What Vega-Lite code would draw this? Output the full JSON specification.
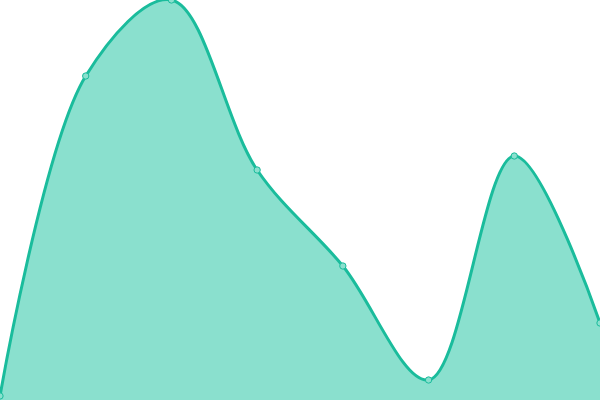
{
  "$schema": "https://vega.github.io/schema/vega-lite/v6.json",
  "width": 600,
  "height": 400,
  "autosize": {"type": "none"},
  "padding": 0,
  "config": {"view": {"stroke": null}},
  "data": {
    "values": [
      {"i": 0, "v": 1},
      {"i": 1, "v": 81},
      {"i": 2, "v": 100},
      {"i": 3, "v": 57.5},
      {"i": 4, "v": 33.5},
      {"i": 5, "v": 5},
      {"i": 6, "v": 61},
      {"i": 7, "v": 19.25}
    ]
  },
  "encoding": {
    "x": {"field": "i", "type": "quantitative", "axis": null, "scale": {"domain": [0, 7], "nice": false, "zero": false}},
    "y": {"field": "v", "type": "quantitative", "axis": null, "scale": {"domain": [0, 100], "nice": false}}
  },
  "layer": [
    {
      "mark": {"type": "area", "interpolate": "catmull-rom", "color": "#8ae0ce"}
    },
    {
      "mark": {"type": "line", "interpolate": "catmull-rom", "color": "#1abc9c", "strokeWidth": 3}
    },
    {
      "mark": {"type": "point", "filled": true, "fill": "#8ae0ce", "stroke": "#1abc9c", "strokeWidth": 1, "size": 40, "opacity": 1}
    }
  ]
}
